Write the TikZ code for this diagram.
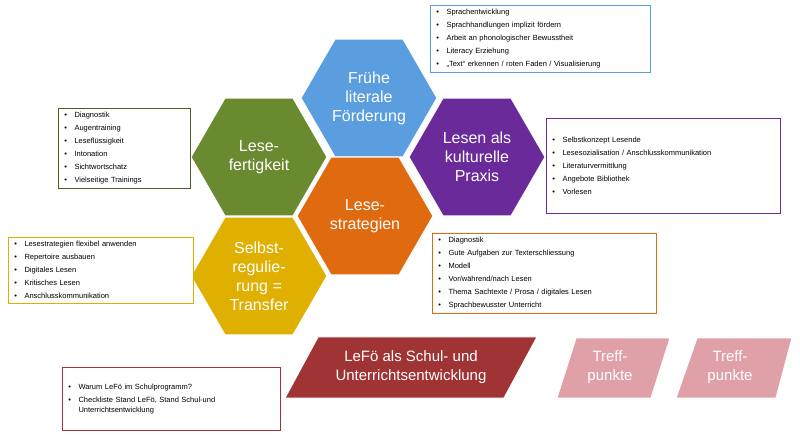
\documentclass[tikz,border=0pt]{standalone}
\usepackage{fontspec}
\setmainfont{Liberation Sans}
\usetikzlibrary{shapes.geometric}
\begin{document}
\begin{tikzpicture}[x=1pt,y=-1pt,
  hexa/.style={regular polygon,regular polygon sides=6,minimum size=136pt,inner sep=0pt,draw=white,line width=1pt,text=white,font=\fontsize{16}{19}\selectfont,align=center},
  info/.style={draw,line width=0.8pt,fill=white,anchor=north west,align=left,font=\fontsize{7.5}{13}\selectfont,inner xsep=6pt,inner ysep=4pt},
  ptext/.style={text=white,align=center,font=\fontsize{15}{19}\selectfont},
  pshape/.style={draw=white,line width=1pt}]
\useasboundingbox (0,0) rectangle (800,435);
\definecolor{cblue}{HTML}{5A9EE0}\definecolor{cgreen}{HTML}{6A8A30}
\definecolor{corange}{HTML}{E06A10}\definecolor{cpurple}{HTML}{6A2A9A}
\definecolor{cgold}{HTML}{E0B000}\definecolor{cred}{HTML}{A03434}
\definecolor{cpink}{HTML}{E0A0A8}
\node[hexa,fill=cblue] (fr) at (369,98) {Frühe\\literale\\Förderung};
\node[hexa,fill=cgreen] (lf) at (259,157) {Lese-\\fertigkeit};
\node[hexa,fill=cpurple] (lk) at (477,157) {Lesen als\\kulturelle\\Praxis};
\node[hexa,fill=corange] (ls) at (365,216) {Lese-\\strategien};
\node[hexa,fill=cgold] (sr) at (259,276) {Selbst-\\regulie-\\rung =\\Transfer};
\node[info,draw=cblue,text width=208pt] (b1) at (430,5) {\textbullet\quad Sprachentwicklung\\\textbullet\quad Sprachhandlungen implizit fördern\\\textbullet\quad Arbeit an phonologischer Bewusstheit\\\textbullet\quad Literacy Erziehung\\\textbullet\quad „Text“ erkennen / roten Faden / Visualisierung};
\node[info,draw=cgreen!70!black,text width=120pt] (b2) at (58,108) {\textbullet\quad Diagnostik\\\textbullet\quad Augentraining\\\textbullet\quad Leseflüssigkeit\\\textbullet\quad Intonation\\\textbullet\quad Sichtwortschatz\\\textbullet\quad Vielseitige Trainings};
\node[info,draw=cpurple,text width=222pt,minimum height=95pt,inner ysep=8pt] (b3) at (546,118) {\textbullet\quad Selbstkonzept Lesende\\\textbullet\quad Lesesozialisation / Anschlusskommunikation\\\textbullet\quad Literaturvermittlung\\\textbullet\quad Angebote Bibliothek\\\textbullet\quad Vorlesen};
\node[info,draw=cgold,text width=173pt] (b4) at (8,237) {\textbullet\quad Lesestrategien flexibel anwenden\\\textbullet\quad Repertoire ausbauen\\\textbullet\quad Digitales Lesen\\\textbullet\quad Kritisches Lesen\\\textbullet\quad Anschlusskommunikation};
\node[info,draw=corange,text width=212pt] (b5) at (432,233) {\textbullet\quad Diagnostik\\\textbullet\quad Gute Aufgaben zur Texterschliessung\\\textbullet\quad Modell\\\textbullet\quad Vor/während/nach Lesen\\\textbullet\quad Thema Sachtexte / Prosa / digitales Lesen\\\textbullet\quad Sprachbewusster Unterricht};
\node[info,draw=cred,text width=206pt,minimum height=63pt,font=\fontsize{7.5}{10}\selectfont,inner ysep=10pt] (b6) at (62,367) {\textbullet\quad Warum LeFö im Schulprogramm?\\[3pt]\textbullet\quad Checkliste Stand LeFö, Stand Schul-und\\\phantom{\textbullet\quad}Unterrichtsentwicklung};
\fill[cred,pshape] (318,337) -- (537,337) -- (504,398) -- (285,398) -- cycle;
\node[ptext] (lefo) at (411,367) {LeFö als Schul- und\\Unterrichtsentwicklung};
\fill[cpink,pshape] (576,338) -- (670,338) -- (651,398) -- (557,398) -- cycle;
\node[ptext] (t1) at (610,367) {Treff-\\punkte};
\fill[cpink,pshape] (697,338) -- (792,338) -- (776,398) -- (676,398) -- cycle;
\node[ptext] (t2) at (730,367) {Treff-\\punkte};
\end{tikzpicture}
\end{document}
